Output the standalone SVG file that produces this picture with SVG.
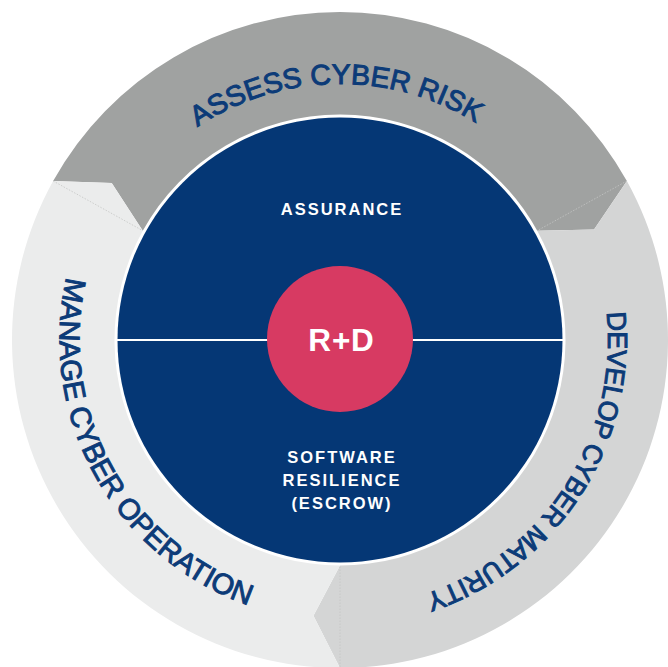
<svg xmlns="http://www.w3.org/2000/svg" width="668" height="667" viewBox="0 0 668 667">
  <defs>
    <style>
      .ring-label { font-family: "Liberation Sans", Arial, sans-serif; font-weight: 400; fill: #0c3b78; stroke: #0c3b78; stroke-width: 1; }
      .core-label { font-family: "Liberation Sans", Arial, sans-serif; font-weight: 700; font-size: 16.5px; letter-spacing: 2px; fill: #ffffff; text-anchor: middle; }
      .seam { fill: none; stroke: #c4c5c4; stroke-width: 0.8; stroke-dasharray: 1.5 1.5; }
    </style>
    <!-- baseline arcs for the ring captions, centred on (340,340) -->
    <path id="arc-top" d="M83.03,343.81 A257,257 0 0 1 596.97,336.19"/>
    <path id="arc-right" d="M485.18,114.72 A268,268 0 0 1 194.82,565.28"/>
    <path id="arc-left" d="M203.29,93.36 A282,282 0 0 0 476.71,586.64"/>
  </defs>

  <rect width="668" height="667" fill="#ffffff"/>

  <!-- outer cycle: three chevron arc segments -->
  <g id="assess-cyber-risk">
    <path d="M53.13,180.98 A328,328 0 0 1 626.87,180.98 L594.03,229.55 L537.23,230.68 A225.5,225.5 0 0 0 142.77,230.68 L111.72,183.10 Z" fill="#a0a2a1"/>
    <text class="ring-label" font-size="28.5" letter-spacing="0"><textPath href="#arc-top" startOffset="50%" text-anchor="middle">ASSESS CYBER RISK</textPath></text>
  </g>
  <g id="develop-cyber-maturity">
    <path d="M626.87,180.98 A328,328 0 0 1 340,668 L313.45,615.73 L340,565.5 A225.5,225.5 0 0 0 537.23,230.68 L594.03,229.55 Z" fill="#d4d5d5"/>
    <text class="ring-label" font-size="27" letter-spacing="-0.4"><textPath href="#arc-right" startOffset="50%" text-anchor="middle">DEVELOP CYBER MATURITY</textPath></text>
  </g>
  <g id="manage-cyber-operation">
    <path d="M340,668 A328,328 0 0 1 53.13,180.98 L111.72,183.10 L142.77,230.68 A225.5,225.5 0 0 0 340,565.5 L313.45,615.73 Z" fill="#ebecec"/>
    <text class="ring-label" font-size="29"><textPath href="#arc-left" startOffset="50%" text-anchor="middle">MANAGE CYBER OPERATION</textPath></text>
  </g>

  <!-- faint seams where each segment meets the next -->
  <g id="connectors">
    <line class="seam" x1="53.13" y1="180.98" x2="142.77" y2="230.68"/>
    <line class="seam" x1="626.87" y1="180.98" x2="537.23" y2="230.68"/>
    <line class="seam" x1="340" y1="667" x2="340" y2="565.5"/>
  </g>

  <!-- inner disc split into two halves -->
  <g id="core">
    <circle cx="340" cy="340" r="222.5" fill="#053775"/>
    <line x1="117" y1="340" x2="563" y2="340" stroke="#ffffff" stroke-width="1.8"/>
  </g>
  <g id="assurance">
    <text class="core-label" x="342" y="215">ASSURANCE</text>
  </g>
  <g id="software-resilience">
    <text class="core-label" x="342" y="462.7">SOFTWARE</text>
    <text class="core-label" x="342" y="485.8">RESILIENCE</text>
    <text class="core-label" x="342" y="509">(ESCROW)</text>
  </g>
  <g id="r-and-d">
    <circle cx="340" cy="339" r="73" fill="#d73a62"/>
    <text x="341.5" y="350.5" font-family="'Liberation Sans', Arial, sans-serif" font-weight="700" font-size="31.5" letter-spacing="0.8" fill="#ffffff" text-anchor="middle">R+D</text>
  </g>
</svg>
